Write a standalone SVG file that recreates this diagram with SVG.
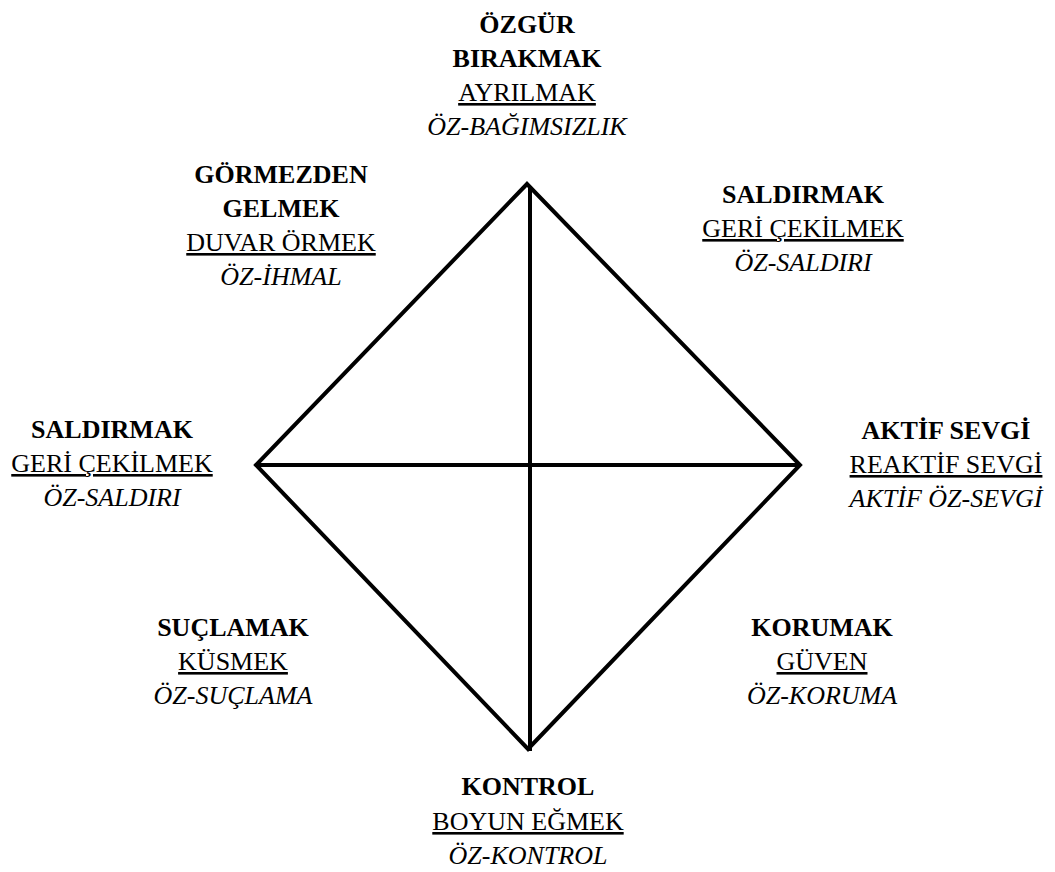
<svg xmlns="http://www.w3.org/2000/svg" width="1055" height="872" viewBox="0 0 1055 872">
<style>
.t text{font-family:'Liberation Serif','Noto Serif','DejaVu Serif',Tinos,'Nimbus Roman','FreeSerif','Times New Roman',Times,serif;font-size:26px;fill:#000;text-anchor:middle}
.b{font-weight:bold}
.u{text-decoration:underline}
.i{font-style:italic}
.ln{stroke:#000;stroke-width:4;fill:none;stroke-linejoin:miter}
</style>
<rect width="1055" height="872" fill="#fff"/>
<g id="connectors">
<polygon class="ln" points="527,184 800,465 528,749 256,465"/>
<line class="ln" x1="530" y1="186" x2="530" y2="751"/>
<line class="ln" x1="256" y1="465" x2="800" y2="465"/>
</g>
<g class="t">
<g id="top">
<text class="b" x="527" y="33">ÖZGÜR</text>
<text class="b" x="527" y="67">BIRAKMAK</text>
<text class="u" x="527" y="101">AYRILMAK</text>
<text class="i" x="527" y="135">ÖZ-BAĞIMSIZLIK</text>
</g>
<g id="topleft">
<text class="b" x="281" y="183">GÖRMEZDEN</text>
<text class="b" x="281" y="217">GELMEK</text>
<text class="u" x="281" y="251">DUVAR ÖRMEK</text>
<text class="i" x="281" y="285">ÖZ-İHMAL</text>
</g>
<g id="topright">
<text class="b" x="803" y="203">SALDIRMAK</text>
<text class="u" x="803" y="237">GERİ ÇEKİLMEK</text>
<text class="i" x="803" y="271">ÖZ-SALDIRI</text>
</g>
<g id="left">
<text class="b" x="112" y="438">SALDIRMAK</text>
<text class="u" x="112" y="472">GERİ ÇEKİLMEK</text>
<text class="i" x="112" y="506">ÖZ-SALDIRI</text>
</g>
<g id="right">
<text class="b" x="946" y="439">AKTİF SEVGİ</text>
<text class="u" x="946" y="473">REAKTİF SEVGİ</text>
<text class="i" x="946" y="507">AKTİF ÖZ-SEVGİ</text>
</g>
<g id="bottomleft">
<text class="b" x="233" y="636">SUÇLAMAK</text>
<text class="u" x="233" y="670">KÜSMEK</text>
<text class="i" x="233" y="704">ÖZ-SUÇLAMA</text>
</g>
<g id="bottomright">
<text class="b" x="822" y="636">KORUMAK</text>
<text class="u" x="822" y="670">GÜVEN</text>
<text class="i" x="822" y="704">ÖZ-KORUMA</text>
</g>
<g id="bottom">
<text class="b" x="528" y="795">KONTROL</text>
<text class="u" x="528" y="830">BOYUN EĞMEK</text>
<text class="i" x="528" y="864">ÖZ-KONTROL</text>
</g>
</g>
</svg>
